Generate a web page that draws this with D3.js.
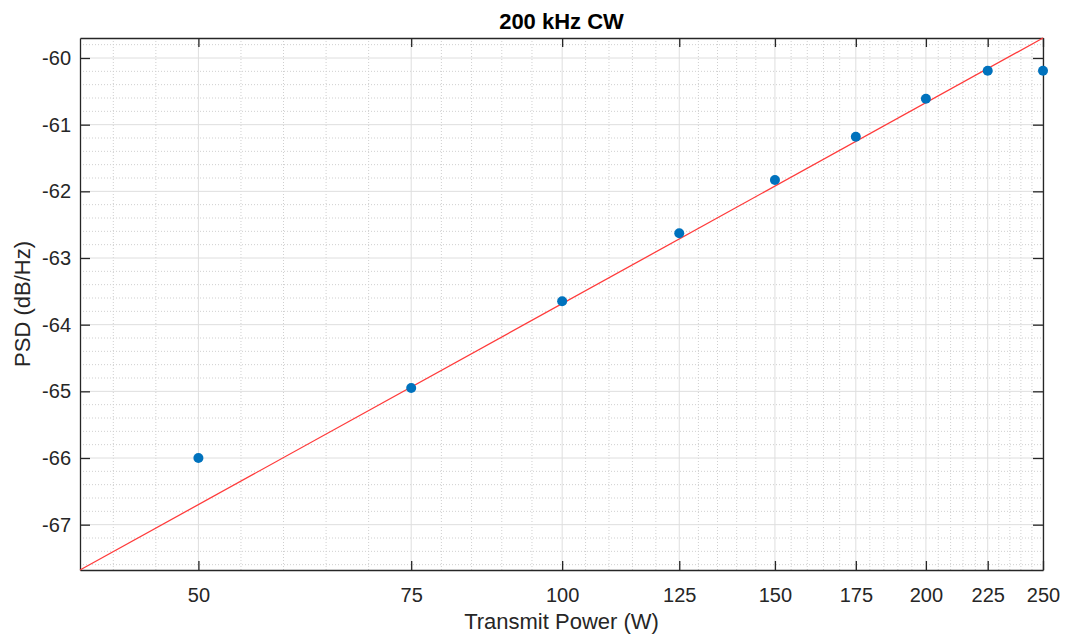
<!DOCTYPE html>
<html>
<head>
    <meta charset="utf-8">
    <title>200 kHz CW</title>
    <script src="https://cdn.jsdelivr.net/npm/d3@7"></script>
    <style type="text/css">
    body {
        margin: 0;
        background-color: white;
    }
    text {
        font-family: "Liberation Sans", Arial, sans-serif;
        fill: #262626;
    }
    </style>
</head>
<body>
    <svg id="chart" width="1068" height="639"></svg>
    <script type="text/javascript">
    // measured power levels and PSD
    var power = [50, 75, 100, 125, 150, 175, 200, 225, 250];
    var psd = [-66.0, -64.95, -63.65, -62.63, -61.83, -61.18, -60.61, -60.19, -60.19];

    // reference line ends (10*log10 slope)
    var fitX = [39.9, 250];
    var fitY = [-67.68, -59.70];

    var xTicks = [50, 75, 100, 125, 150, 175, 200, 225, 250];
    var yTicks = [-67, -66, -65, -64, -63, -62, -61, -60];

    var margin = {left: 80, right: 1043, top: 38, bottom: 570};

    var svg = d3.select('#chart');

    var x = d3.scaleLog()
        .domain([fitX[0], fitX[1]])
        .range([margin.left, margin.right]);
    var y = d3.scaleLinear()
        .domain([fitY[0], fitY[1]])
        .range([margin.bottom, margin.top]);

    // minor ticks on x: 4 evenly (in log) between major ticks, extended below first
    var xMinor = [];
    for (var i = 0; i < xTicks.length - 1; i++) {
        var a = Math.log10(xTicks[i]), b = Math.log10(xTicks[i + 1]);
        for (var k = 1; k < 5; k++) xMinor.push(Math.pow(10, a + (b - a) * k / 5));
    }
    var step0 = (Math.log10(xTicks[1]) - Math.log10(xTicks[0])) / 5;
    for (var v = Math.log10(xTicks[0]) - step0; v > Math.log10(fitX[0]); v -= step0) {
        xMinor.push(Math.pow(10, v));
    }
    var yMinor = d3.range(-67.6, -59.6, 0.2).filter(function(d) {
        return Math.abs(d - Math.round(d)) > 0.05;
    });

    var grid = svg.append('g');
    grid.selectAll('.xminor').data(xMinor).enter().append('line')
        .attr('x1', function(d) { return x(d); })
        .attr('x2', function(d) { return x(d); })
        .attr('y1', margin.top).attr('y2', margin.bottom)
        .attr('stroke', '#cfcfcf').attr('stroke-width', 1)
        .attr('stroke-dasharray', '1,2');
    grid.selectAll('.yminor').data(yMinor).enter().append('line')
        .attr('x1', margin.left).attr('x2', margin.right)
        .attr('y1', function(d) { return y(d); })
        .attr('y2', function(d) { return y(d); })
        .attr('stroke', '#cfcfcf').attr('stroke-width', 1)
        .attr('stroke-dasharray', '1,2');
    grid.selectAll('.xmajor').data(xTicks).enter().append('line')
        .attr('x1', function(d) { return x(d); })
        .attr('x2', function(d) { return x(d); })
        .attr('y1', margin.top).attr('y2', margin.bottom)
        .attr('stroke', '#dedede').attr('stroke-width', 1);
    grid.selectAll('.ymajor').data(yTicks).enter().append('line')
        .attr('x1', margin.left).attr('x2', margin.right)
        .attr('y1', function(d) { return y(d); })
        .attr('y2', function(d) { return y(d); })
        .attr('stroke', '#dedede').attr('stroke-width', 1);

    // axes, ticks inward, box on all four sides
    var fmt = function(d) { return String(d); };
    var axisColor = '#262626';

    var gBottom = svg.append('g')
        .attr('transform', 'translate(0,' + margin.bottom + ')')
        .call(d3.axisBottom(x).tickValues(xTicks).tickFormat(fmt).tickSizeInner(-9).tickSizeOuter(0).tickPadding(17.5));
    var gTop = svg.append('g')
        .attr('transform', 'translate(0,' + margin.top + ')')
        .call(d3.axisTop(x).tickValues(xTicks).tickFormat('').tickSizeInner(-9).tickSizeOuter(0));
    var gLeft = svg.append('g')
        .attr('transform', 'translate(' + margin.left + ',0)')
        .call(d3.axisLeft(y).tickValues(yTicks).tickFormat(fmt).tickSizeInner(-10).tickSizeOuter(0).tickPadding(9));
    var gRight = svg.append('g')
        .attr('transform', 'translate(' + margin.right + ',0)')
        .call(d3.axisRight(y).tickValues(yTicks).tickFormat('').tickSizeInner(-10).tickSizeOuter(0));

    [gBottom, gTop, gLeft, gRight].forEach(function(g) {
        g.select('.domain').attr('stroke', axisColor).attr('stroke-width', 1.3);
        g.selectAll('.tick line').attr('stroke', axisColor).attr('stroke-width', 1.3);
        g.selectAll('.tick text')
            .style('font-family', '"Liberation Sans", Arial, sans-serif')
            .style('font-size', '20px')
            .attr('fill', axisColor);
    });

    // reference line
    svg.append('line')
        .attr('x1', x(fitX[0])).attr('y1', y(fitY[0]))
        .attr('x2', x(fitX[1])).attr('y2', y(fitY[1]))
        .attr('stroke', '#ff3b3b').attr('stroke-width', 1.3);

    // data points
    svg.selectAll('.pt').data(power).enter().append('circle')
        .attr('cx', function(d) { return x(d); })
        .attr('cy', function(d, i) { return y(psd[i]); })
        .attr('r', 5)
        .attr('fill', '#0072BD');

    // title and labels
    svg.append('text')
        .attr('x', (margin.left + margin.right) / 2)
        .attr('y', 29)
        .attr('text-anchor', 'middle')
        .style('font-size', '22px')
        .style('font-weight', 'bold')
        .style('fill', '#000')
        .text('200 kHz CW');

    svg.append('text')
        .attr('x', (margin.left + margin.right) / 2)
        .attr('y', 629)
        .attr('text-anchor', 'middle')
        .style('font-size', '22px')
        .text('Transmit Power (W)');

    svg.append('text')
        .attr('transform', 'translate(30,' + (margin.top + margin.bottom) / 2 + ') rotate(-90)')
        .attr('text-anchor', 'middle')
        .style('font-size', '22px')
        .text('PSD (dB/Hz)');
    </script>
</body>
</html>
